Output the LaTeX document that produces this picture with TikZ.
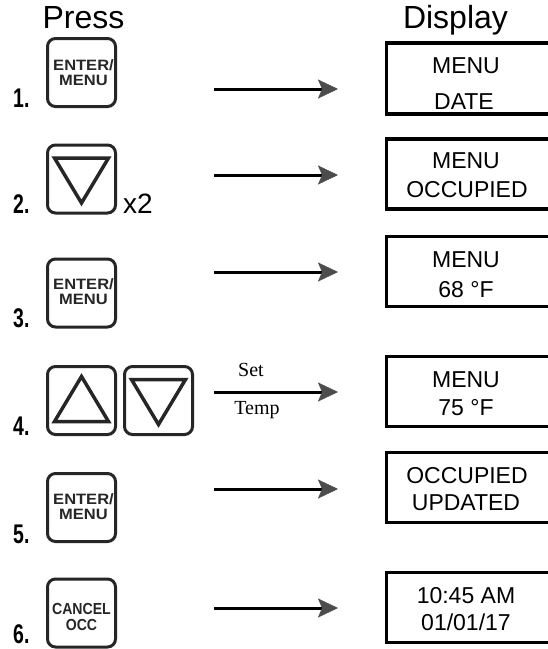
\documentclass[tikz,border=0pt]{standalone}
\usepackage{fontspec}
\setmainfont{Liberation Sans}
\newfontfamily\timesfont{Liberation Serif}
\usetikzlibrary{arrows.meta}
\begin{document}
\begin{tikzpicture}[x=1pt,y=-1pt,
  btn/.style={draw=black!85, line width=3pt, rounded corners=8pt, minimum width=68pt, minimum height=68pt, inner sep=0pt, fill=white},
  disp/.style={draw=black, line width=3.5pt, minimum width=164.25pt, minimum height=70pt, inner sep=0pt, anchor=west},
  title/.style={anchor=base, inner sep=0pt, font=\fontsize{32}{32}\selectfont},
  dtext/.style={anchor=base, inner sep=0pt, font=\fontsize{23}{23}\selectfont},
  num/.style={anchor=base west, inner sep=0pt, font=\fontsize{27}{27}\selectfont\bfseries},
  key/.style={anchor=base, inner sep=0pt, text=black!85, font=\fontsize{15}{15}\selectfont\bfseries},
  keyb/.style={anchor=base, inner sep=0pt, text=black!85, font=\fontsize{16}{16}\selectfont\bfseries},
  tri/.style={draw=black!85, line width=3.5pt, line join=miter},
  arr/.style={line width=3pt, -{Stealth[length=20pt, width=19pt, inset=4pt, color=black!70, fill=black!70, line width=0.5pt]}},
  lbl/.style={inner sep=0pt, font=\timesfont\fontsize{20}{20}\selectfont}
]
\clip (0,0) rectangle (548,649);
\fill[white] (0,0) rectangle (548,649);

% titles
\node[title] (press) at (83.5,28) {Press};
\node[title] (display) at (455.5,28) {Display};

% step numbers
\node[num] (n1) at (13,107) {\scalebox{0.72}[1]{1.}};
\node[num] (n2) at (13,213) {\scalebox{0.72}[1]{2.}};
\node[num] (n3) at (13,327) {\scalebox{0.72}[1]{3.}};
\node[num] (n4) at (13,435) {\scalebox{0.72}[1]{4.}};
\node[num] (n5) at (13,543) {\scalebox{0.72}[1]{5.}};
\node[num] (n6) at (13,643) {\scalebox{0.72}[1]{6.}};

% buttons
\node[btn] (b1) at (81.5,72.5) {};
\node[key] (b1t) at (83.5,70.5) {\scalebox{1.1}[1]{ENTER/}};
\node[key] (b1u) at (83.5,85) {\scalebox{1.1}[1]{MENU}};

\node[btn] (b2) at (81.5,179) {};
\draw[tri] (b2) ++(-27,-21) -- ++(54,0) -- ++(-27,45) -- cycle;
\node[anchor=base west, inner sep=0pt, font=\fontsize{28}{28}\selectfont] (x2) at (123,213) {x2};

\node[btn] (b3) at (81.5,293) {};
\node[key] (b3t) at (83.5,289.5) {\scalebox{1.1}[1]{ENTER/}};
\node[key] (b3u) at (83.5,304) {\scalebox{1.1}[1]{MENU}};

\node[btn] (b4a) at (81.5,400.5) {};
\draw[tri] (b4a) ++(-27,21) -- ++(54,0) -- ++(-27,-45) -- cycle;
\node[btn] (b4b) at (158.5,400.5) {};
\draw[tri] (b4b) ++(-27,-21) -- ++(54,0) -- ++(-27,45) -- cycle;

\node[btn] (b5) at (81.5,507.5) {};
\node[key] (b5t) at (83.5,504.5) {\scalebox{1.1}[1]{ENTER/}};
\node[key] (b5u) at (83.5,519) {\scalebox{1.1}[1]{MENU}};

\node[btn] (b6) at (81.5,613) {};
\node[keyb] (b6t) at (81.5,614) {\scalebox{0.88}[1]{CANCEL}};
\node[keyb] (b6u) at (81.5,630) {\scalebox{0.88}[1]{OCC}};

% arrows
\foreach \i/\y in {1/89,2/175,3/272,4/392,5/489,6/608}{
  \coordinate (s\i) at (214,\y);
  \coordinate (e\i) at (338,\y);
  \draw[arr] (s\i) -- (e\i);
}
\node[lbl, anchor=base] (set) at (251,376) {Set};
\node[lbl, anchor=base] (temp) at (257,414) {Temp};

% displays
\node[disp, minimum height=71pt] (d1) at (384.75,78.5) {};
\node[dtext] (d1a) at (466,73) {MENU};
\node[dtext] (d1b) at (464,109) {DATE};

\node[disp] (d2) at (384.75,174) {};
\node[dtext] (d2a) at (466,168) {MENU};
\node[dtext] (d2b) at (467,197) {OCCUPIED};

\node[disp] (d3) at (384.75,271.5) {};
\node[dtext] (d3a) at (466,267) {MENU};
\node[dtext] (d3b) at (466,297) {68 °F};

\node[disp] (d4) at (384.75,391.5) {};
\node[dtext] (d4a) at (466,387) {MENU};
\node[dtext] (d4b) at (466,415) {75 °F};

\node[disp] (d5) at (384.75,487.5) {};
\node[dtext] (d5a) at (467,483) {OCCUPIED};
\node[dtext] (d5b) at (466,510) {UPDATED};

\node[disp] (d6) at (384.75,607.5) {};
\node[dtext] (d6a) at (466,603) {10:45 AM};
\node[dtext] (d6b) at (466,630) {01/01/17};
\end{tikzpicture}
\end{document}
